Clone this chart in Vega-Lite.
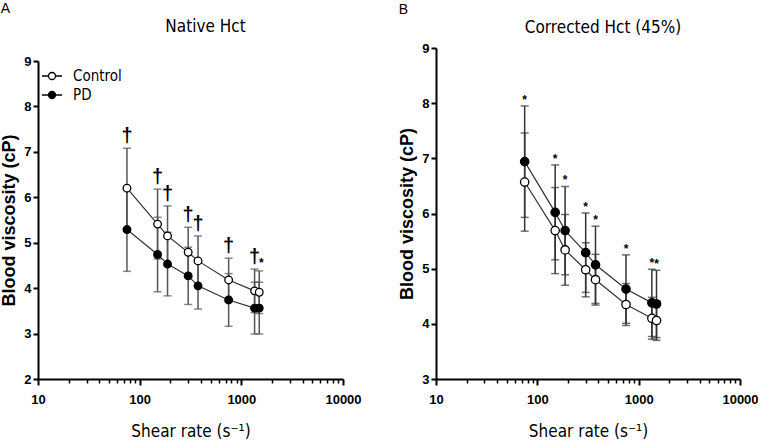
{
  "$schema": "https://vega.github.io/schema/vega-lite/v6.json",
  "padding": {"left": 0, "top": 2, "right": 0, "bottom": 2},
  "spacing": 36,
  "config": {"view": {"stroke": null}, "font": "Liberation Sans"},
  "datasets": {
    "native": [
      {"rate": 75, "group": "Control", "mean": 6.20, "lo": 5.32, "hi": 7.08, "sig": "†"},
      {"rate": 150, "group": "Control", "mean": 5.41, "lo": 4.64, "hi": 6.18, "sig": "†"},
      {"rate": 188, "group": "Control", "mean": 5.15, "lo": 4.49, "hi": 5.81, "sig": "†"},
      {"rate": 300, "group": "Control", "mean": 4.79, "lo": 4.24, "hi": 5.34, "sig": "†"},
      {"rate": 375, "group": "Control", "mean": 4.60, "lo": 4.05, "hi": 5.15, "sig": "†"},
      {"rate": 750, "group": "Control", "mean": 4.18, "lo": 3.70, "hi": 4.66, "sig": "†"},
      {"rate": 1350, "group": "Control", "mean": 3.94, "lo": 3.46, "hi": 4.42, "sig": "†"},
      {"rate": 1500, "group": "Control", "mean": 3.91, "lo": 3.44, "hi": 4.38, "sig": "*"},
      {"rate": 75, "group": "PD", "mean": 5.29, "lo": 4.37, "hi": 6.21, "sig": ""},
      {"rate": 150, "group": "PD", "mean": 4.74, "lo": 3.92, "hi": 5.56, "sig": ""},
      {"rate": 188, "group": "PD", "mean": 4.53, "lo": 3.83, "hi": 5.23, "sig": ""},
      {"rate": 300, "group": "PD", "mean": 4.27, "lo": 3.64, "hi": 4.90, "sig": ""},
      {"rate": 375, "group": "PD", "mean": 4.05, "lo": 3.54, "hi": 4.56, "sig": ""},
      {"rate": 750, "group": "PD", "mean": 3.74, "lo": 3.16, "hi": 4.32, "sig": ""},
      {"rate": 1350, "group": "PD", "mean": 3.56, "lo": 2.99, "hi": 4.13, "sig": ""},
      {"rate": 1500, "group": "PD", "mean": 3.56, "lo": 2.99, "hi": 4.13, "sig": ""}
    ],
    "corrected": [
      {"rate": 75, "group": "Control", "mean": 6.57, "lo": 5.68, "hi": 7.46, "sig": ""},
      {"rate": 150, "group": "Control", "mean": 5.69, "lo": 4.91, "hi": 6.47, "sig": ""},
      {"rate": 188, "group": "Control", "mean": 5.34, "lo": 4.70, "hi": 5.98, "sig": ""},
      {"rate": 300, "group": "Control", "mean": 4.98, "lo": 4.49, "hi": 5.47, "sig": ""},
      {"rate": 375, "group": "Control", "mean": 4.80, "lo": 4.34, "hi": 5.26, "sig": ""},
      {"rate": 750, "group": "Control", "mean": 4.35, "lo": 3.97, "hi": 4.73, "sig": ""},
      {"rate": 1350, "group": "Control", "mean": 4.10, "lo": 3.72, "hi": 4.48, "sig": ""},
      {"rate": 1500, "group": "Control", "mean": 4.06, "lo": 3.70, "hi": 4.42, "sig": ""},
      {"rate": 75, "group": "PD", "mean": 6.94, "lo": 5.93, "hi": 7.95, "sig": "*"},
      {"rate": 150, "group": "PD", "mean": 6.02, "lo": 5.16, "hi": 6.88, "sig": "*"},
      {"rate": 188, "group": "PD", "mean": 5.69, "lo": 4.89, "hi": 6.49, "sig": "*"},
      {"rate": 300, "group": "PD", "mean": 5.29, "lo": 4.57, "hi": 6.01, "sig": "*"},
      {"rate": 375, "group": "PD", "mean": 5.07, "lo": 4.37, "hi": 5.77, "sig": "*"},
      {"rate": 750, "group": "PD", "mean": 4.63, "lo": 4.01, "hi": 5.25, "sig": "*"},
      {"rate": 1350, "group": "PD", "mean": 4.38, "lo": 3.77, "hi": 4.99, "sig": "*"},
      {"rate": 1500, "group": "PD", "mean": 4.36, "lo": 3.75, "hi": 4.97, "sig": "*"}
    ]
  },
  "hconcat": [
    {
      "title": {"text": "A", "anchor": "start", "fontSize": 14, "fontWeight": "normal", "font": "Liberation Sans", "offset": 2},
      "vconcat": [
        {
          "width": 305,
          "height": 331,
          "title": {"text": "Native Hct", "font": "DejaVu Sans Condensed, Liberation Sans", "fontSize": 17, "fontWeight": "normal", "dx": 15, "offset": 12},
          "data": {"name": "native"},
          "layer": [
            {
              "mark": {"type": "rule", "color": "#555", "strokeWidth": 1.5},
              "encoding": {
                "x": {"field": "rate", "type": "quantitative", "scale": {"type": "log", "domain": [10, 10000]},
                  "axis": {"orient": "bottom", "values": [20,30,40,50,60,70,80,90,200,300,400,500,600,700,800,900,2000,3000,4000,5000,6000,7000,8000,9000], "labels": false, "domain": false, "grid": false, "tickSize": 4, "tickWidth": 1.5, "tickColor": "black", "title": null}},
                "y": {"field": "lo", "type": "quantitative", "scale": {"domain": [2, 9], "range": [331, 13]}, "title": "Blood viscosity (cP)"},
                "y2": {"field": "hi"}
              }
            },
            {
              "mark": {"type": "tick", "orient": "horizontal", "color": "#555", "size": 8, "thickness": 1.5},
              "encoding": {
                "x": {"field": "rate", "type": "quantitative", "axis": null},
                "y": {"field": "lo", "type": "quantitative", "title": "Blood viscosity (cP)"}
              }
            },
            {
              "mark": {"type": "tick", "orient": "horizontal", "color": "#555", "size": 8, "thickness": 1.5},
              "encoding": {
                "x": {"field": "rate", "type": "quantitative", "axis": null},
                "y": {"field": "hi", "type": "quantitative", "title": "Blood viscosity (cP)"}
              }
            },
            {
              "mark": {"type": "line", "color": "#333", "strokeWidth": 1.2},
              "encoding": {
                "x": {"field": "rate", "type": "quantitative", "axis": null},
                "y": {"field": "mean", "type": "quantitative", "title": "Blood viscosity (cP)"},
                "detail": {"field": "group"}
              }
            },
            {
              "mark": {"type": "point", "shape": "circle", "filled": true, "stroke": "black", "strokeWidth": 1.3, "size": 58, "opacity": 1},
              "encoding": {
                "x": {"field": "rate", "type": "quantitative",
                  "axis": {"orient": "bottom", "values": [10, 100, 1000, 10000], "format": "d", "labelFlush": false, "grid": false, "domainColor": "black", "domainWidth": 2, "tickColor": "black", "tickWidth": 2, "tickSize": 6, "labelFont": "Liberation Sans", "labelFontWeight": "bold", "labelFontSize": 13, "labelColor": "black", "labelPadding": 8, "title": "Shear rate (s⁻¹)", "titleFont": "DejaVu Sans Condensed, Liberation Sans", "titleFontSize": 17, "titleFontWeight": "normal", "titleColor": "black", "titlePadding": 17}},
                "y": {"field": "mean", "type": "quantitative", "title": "Blood viscosity (cP)",
                  "axis": {"values": [2,3,4,5,6,7,8,9], "format": "d", "labelFlush": false, "grid": false, "domainColor": "black", "domainWidth": 2, "tickColor": "black", "tickWidth": 2, "tickSize": 5, "labelFont": "Liberation Sans", "labelFontWeight": "bold", "labelFontSize": 13, "labelColor": "black", "labelPadding": 2, "titleFont": "Liberation Sans", "titleFontSize": 18, "titleFontWeight": "bold", "titleColor": "black", "titlePadding": 5}},
                "fill": {"field": "group", "type": "nominal", "scale": {"domain": ["Control", "PD"], "range": ["white", "black"]},
                  "legend": {"orient": "none", "legendX": 3, "legendY": 17, "title": null, "symbolType": "M-1,0H-0.35M0.35,0H1M0.35,0A0.35,0.35 0 1,1 -0.35,0A0.35,0.35 0 1,1 0.35,0Z", "symbolSize": 400, "symbolStrokeColor": "black", "symbolStrokeWidth": 1.3, "symbolOpacity": 1, "labelFont": "DejaVu Sans Condensed, Liberation Sans", "labelFontSize": 15, "labelColor": "black", "labelOffset": 10, "rowPadding": 0}}
              }
            },
            {
              "transform": [{"filter": "datum.sig == '†'"}],
              "mark": {"type": "text", "font": "Liberation Sans", "fontWeight": "bold", "fontSize": 20, "baseline": "alphabetic", "dy": -6, "color": "black"},
              "encoding": {
                "x": {"field": "rate", "type": "quantitative", "axis": null},
                "y": {"field": "hi", "type": "quantitative", "title": "Blood viscosity (cP)"},
                "text": {"field": "sig"}
              }
            },
            {
              "transform": [{"filter": "datum.sig == '*'"}],
              "mark": {"type": "text", "font": "Liberation Sans", "fontWeight": "bold", "fontSize": 12, "baseline": "alphabetic", "dy": -4, "dx": 2, "color": "black"},
              "encoding": {
                "x": {"field": "rate", "type": "quantitative", "axis": null},
                "y": {"field": "hi", "type": "quantitative", "title": "Blood viscosity (cP)"},
                "text": {"field": "sig"}
              }
            }
          ],
          "resolve": {"axis": {"x": "independent"}}
        }
      ]
    },
    {
      "title": {"text": "B", "anchor": "start", "fontSize": 14, "fontWeight": "normal", "font": "Liberation Sans", "offset": 2},
      "vconcat": [
        {
          "width": 304,
          "height": 331,
          "title": {"text": "Corrected Hct (45%)", "font": "DejaVu Sans Condensed, Liberation Sans", "fontSize": 17, "fontWeight": "normal", "dx": 15, "offset": 5},
          "data": {"name": "corrected"},
          "layer": [
            {
              "mark": {"type": "rule", "color": "#333", "strokeWidth": 1.5},
              "encoding": {
                "x": {"field": "rate", "type": "quantitative", "scale": {"type": "log", "domain": [10, 10000]},
                  "axis": {"orient": "bottom", "values": [20,30,40,50,60,70,80,90,200,300,400,500,600,700,800,900,2000,3000,4000,5000,6000,7000,8000,9000], "labels": false, "domain": false, "grid": false, "tickSize": 4, "tickWidth": 1.5, "tickColor": "black", "title": null}},
                "y": {"field": "lo", "type": "quantitative", "scale": {"domain": [3, 9]}, "title": "Blood viscosity (cP)"},
                "y2": {"field": "hi"}
              }
            },
            {
              "mark": {"type": "tick", "orient": "horizontal", "color": "#333", "size": 8, "thickness": 1.5},
              "encoding": {
                "x": {"field": "rate", "type": "quantitative", "axis": null},
                "y": {"field": "lo", "type": "quantitative", "title": "Blood viscosity (cP)"}
              }
            },
            {
              "mark": {"type": "tick", "orient": "horizontal", "color": "#333", "size": 8, "thickness": 1.5},
              "encoding": {
                "x": {"field": "rate", "type": "quantitative", "axis": null},
                "y": {"field": "hi", "type": "quantitative", "title": "Blood viscosity (cP)"}
              }
            },
            {
              "mark": {"type": "line", "color": "#333", "strokeWidth": 1.2},
              "encoding": {
                "x": {"field": "rate", "type": "quantitative", "axis": null},
                "y": {"field": "mean", "type": "quantitative", "title": "Blood viscosity (cP)"},
                "detail": {"field": "group"}
              }
            },
            {
              "mark": {"type": "point", "shape": "circle", "filled": true, "stroke": "black", "strokeWidth": 1.3, "size": 70, "opacity": 1},
              "encoding": {
                "x": {"field": "rate", "type": "quantitative",
                  "axis": {"orient": "bottom", "values": [10, 100, 1000, 10000], "format": "d", "labelFlush": false, "grid": false, "domainColor": "black", "domainWidth": 2, "tickColor": "black", "tickWidth": 2, "tickSize": 6, "labelFont": "Liberation Sans", "labelFontWeight": "bold", "labelFontSize": 13, "labelColor": "black", "labelPadding": 8, "title": "Shear rate (s⁻¹)", "titleFont": "DejaVu Sans Condensed, Liberation Sans", "titleFontSize": 17, "titleFontWeight": "normal", "titleColor": "black", "titlePadding": 17}},
                "y": {"field": "mean", "type": "quantitative", "title": "Blood viscosity (cP)",
                  "axis": {"values": [3,4,5,6,7,8,9], "format": "d", "labelFlush": false, "grid": false, "domainColor": "black", "domainWidth": 2, "tickColor": "black", "tickWidth": 2, "tickSize": 5, "labelFont": "Liberation Sans", "labelFontWeight": "bold", "labelFontSize": 13, "labelColor": "black", "labelPadding": 2, "titleFont": "Liberation Sans", "titleFontSize": 18, "titleFontWeight": "bold", "titleColor": "black", "titlePadding": 5}},
                "fill": {"field": "group", "type": "nominal", "scale": {"domain": ["Control", "PD"], "range": ["white", "black"]},
                  "legend": {"orient": "none", "legendX": 5, "legendY": 9, "title": null, "symbolType": "M-1,0H-0.35M0.35,0H1M0.35,0A0.35,0.35 0 1,1 -0.35,0A0.35,0.35 0 1,1 0.35,0Z", "symbolSize": 400, "symbolStrokeColor": "black", "symbolStrokeWidth": 1.3, "symbolOpacity": 1, "labelFont": "DejaVu Sans Condensed, Liberation Sans", "labelFontSize": 15, "labelColor": "black", "labelOffset": 10, "rowPadding": 4}}
              }
            },
            {
              "transform": [{"filter": "datum.sig == '*'"}],
              "mark": {"type": "text", "font": "Liberation Sans", "fontWeight": "bold", "fontSize": 12, "baseline": "alphabetic", "dy": -2, "color": "black"},
              "encoding": {
                "x": {"field": "rate", "type": "quantitative", "axis": null},
                "y": {"field": "hi", "type": "quantitative", "title": "Blood viscosity (cP)"},
                "text": {"field": "sig"}
              }
            }
          ],
          "resolve": {"axis": {"x": "independent"}}
        }
      ]
    }
  ]
}
